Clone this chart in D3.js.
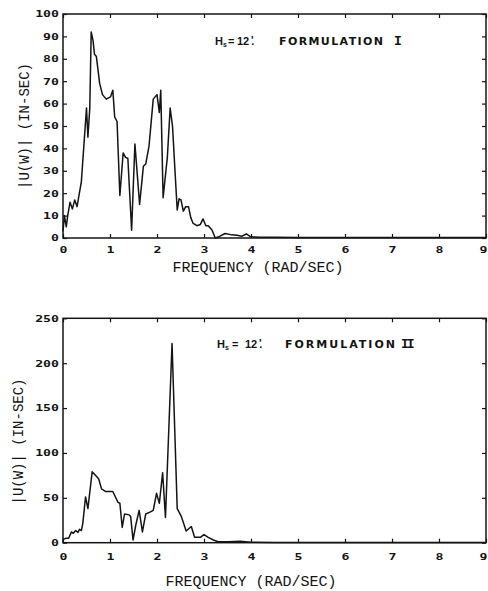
<!DOCTYPE html>
<html>
<head>
<meta charset="utf-8">
<script src="https://cdn.jsdelivr.net/npm/d3@7"></script>
<style>
  body { margin: 0; background: #fff; }
  svg { display: block; }
</style>
</head>
<body>
<script>
// Frequency axis and tick labels
var xTicks = [0, 1, 2, 3, 4, 5, 6, 7, 8, 9];
var yTicksTop = [0, 10, 20, 30, 40, 50, 60, 70, 80, 90, 100];
var yTicksBottom = [0, 50, 100, 150, 200, 250];

// Formulation I
var freqTop = [0, 0.03, 0.07, 0.10, 0.15, 0.20, 0.25, 0.30, 0.34, 0.39, 0.44, 0.50, 0.53, 0.57, 0.60,
    0.64, 0.67, 0.71, 0.78, 0.84, 0.92, 1.01, 1.06, 1.10, 1.15, 1.21, 1.28, 1.33, 1.38, 1.46,
    1.53, 1.63, 1.71, 1.76, 1.83, 1.92, 2.00, 2.05, 2.08, 2.13, 2.22, 2.28, 2.33, 2.38, 2.43,
    2.47, 2.51, 2.56, 2.61, 2.67, 2.72, 2.77, 2.85, 2.92, 2.98, 3.04, 3.09, 3.17, 3.24, 3.33,
    3.45, 3.59, 3.70, 3.81, 3.90, 3.98, 4.06, 4.20, 4.50, 5, 6, 7, 8, 9];
var ampTop = [3, 10, 5, 10, 16, 13, 17, 14, 19, 25, 40, 58, 45, 58, 92,
    88, 82, 81, 69, 64, 62, 63, 66, 54, 52, 19, 38, 36, 35.5, 3.5,
    42, 15, 32, 33, 41, 62, 64, 56, 66, 18, 36, 58, 50, 31, 12.5,
    17.5, 17, 12, 14, 14, 9, 6.5, 5.5, 6, 8.5, 5.5, 5.5, 3.6, 0, 0.7,
    2, 1.4, 1.2, 0.8, 1.8, 0.7, 0.5, 0.3, 0.3, 0.2, 0.2, 0.2, 0.2, 0.2];

// Formulation II
var freqBottom = [0, 0.01, 0.07, 0.12, 0.18, 0.22, 0.27, 0.32, 0.35, 0.39, 0.42, 0.48, 0.53, 0.62,
    0.71, 0.76, 0.82, 0.91, 1.06, 1.17, 1.21, 1.26, 1.31, 1.41, 1.44, 1.49, 1.55, 1.62, 1.69,
    1.76, 1.85, 1.92, 1.99, 2.05, 2.12, 2.18, 2.32, 2.43, 2.47, 2.52, 2.62, 2.73, 2.80, 2.92,
    3.00, 3.09, 3.20, 3.30, 3.52, 3.77, 4.00, 4.50, 5, 6, 7, 8, 9];
var ampBottom = [0.5, 4, 5, 5, 12, 10.5, 13.5, 11.5, 15, 13.5, 21, 51, 38, 79,
    74, 71, 60, 57, 57, 45, 44, 17, 32, 31, 29, 3, 20, 36, 12,
    32, 34, 36, 55, 44, 78, 28, 222, 38, 34, 29, 13, 18, 6, 6,
    9, 6, 3, 1, 1, 1.5, 0.5, 0.3, 0.3, 0.3, 0.3, 0.3, 0.3];

var W = 488, H = 591;
var ink = "#141414";
var xRange = [63, 486];

var panels = [
    { freq: freqTop, amp: ampTop, yMax: 100, yTicks: yTicksTop, top: 14, bottom: 238,
      ytx: 29, ytOff: 0, xtX: 258, xtY: 272, labY: 12, roman: "I",
      ann: { y: 45, h: 215, eq: 228, num: 237, form: 279, formLen: 104, rom: 394 } },
    { freq: freqBottom, amp: ampBottom, yMax: 250, yTicks: yTicksBottom, top: 318.3, bottom: 542.7,
      ytx: 23, ytOff: 11, xtX: 251, xtY: 586, labY: 14, roman: "II",
      ann: { y: 348, h: 217, eq: 232, num: 245, form: 285, formLen: 110, rom: 401 } }
];

var svg = d3.select("body").append("svg")
    .attr("width", W)
    .attr("height", H);

svg.append("rect").attr("width", W).attr("height", H).attr("fill", "#fff");

// squat plotter-style tick digits
function styleTickText(sel, tx, ty, anchor) {
    sel.attr("x", 0).attr("y", 0).attr("dy", "0.36em")
        .attr("fill", ink)
        .attr("text-anchor", anchor)
        .attr("transform", function(d) {
            var dx = (anchor === "middle" && d === 9) ? -3 : tx;
            return "translate(" + dx + "," + ty + ") scale(1.2,0.72)";
        });
}

panels.forEach(function(p) {
    var x = d3.scaleLinear().domain([0, 9]).range(xRange);
    var y = d3.scaleLinear().domain([0, p.yMax]).range([p.bottom, p.top]);

    var g = svg.append("g");

    var axFont = function(a) {
        a.attr("font-family", "'DejaVu Sans Mono', monospace")
            .attr("font-weight", "bold")
            .attr("font-size", 11);
        a.select(".domain").remove();
        a.selectAll(".tick line").attr("stroke", ink).attr("stroke-width", 1.2);
    };

    // bottom axis with labels
    var xb = g.append("g")
        .attr("transform", "translate(0," + p.bottom + ")")
        .call(d3.axisBottom(x).tickValues(xTicks).tickSizeInner(-4).tickSizeOuter(0).tickFormat(d3.format("d")));
    axFont(xb);
    styleTickText(xb.selectAll(".tick text"), 0, p.labY, "middle");

    // top axis, ticks only
    var xt = g.append("g")
        .attr("transform", "translate(0," + p.top + ")")
        .call(d3.axisTop(x).tickValues(xTicks).tickSizeInner(-4).tickSizeOuter(0).tickFormat(""));
    axFont(xt);

    // left axis with labels
    var yl = g.append("g")
        .attr("transform", "translate(" + xRange[0] + ",0)")
        .call(d3.axisLeft(y).tickValues(p.yTicks).tickSizeInner(-4).tickSizeOuter(0).tickFormat(d3.format("d")));
    axFont(yl);
    styleTickText(yl.selectAll(".tick text"), -4, 0, "end");

    // right axis, ticks only
    var yr = g.append("g")
        .attr("transform", "translate(" + xRange[1] + ",0)")
        .call(d3.axisRight(y).tickValues(p.yTicks).tickSizeInner(-4).tickSizeOuter(0).tickFormat(""));
    axFont(yr);

    // frame
    g.append("rect")
        .attr("x", x(0))
        .attr("y", y(p.yMax))
        .attr("width", x(9) - x(0))
        .attr("height", y(0) - y(p.yMax))
        .attr("fill", "none")
        .attr("stroke", ink)
        .attr("stroke-width", 1.5);

    // spectrum
    var line = d3.line()
        .x(function(d, i) { return x(p.freq[i]); })
        .y(function(d) { return y(d); });

    g.append("path")
        .datum(p.amp)
        .attr("d", line)
        .attr("fill", "none")
        .attr("stroke", ink)
        .attr("stroke-width", 1.5)
        .attr("stroke-linejoin", "round");

    // axis titles
    g.append("text")
        .attr("x", p.xtX)
        .attr("y", p.xtY)
        .attr("text-anchor", "middle")
        .attr("font-family", "'Liberation Mono', monospace")
        .attr("font-size", 15)
        .attr("fill", ink)
        .text("FREQUENCY (RAD/SEC)");

    var cy = (p.top + p.bottom) / 2 + p.ytOff;
    g.append("text")
        .attr("transform", "translate(" + p.ytx + "," + cy + ") rotate(-90)")
        .attr("text-anchor", "middle")
        .attr("font-family", "'Liberation Mono', monospace")
        .attr("font-size", 14)
        .attr("fill", ink)
        .text("|U(W)| (IN-SEC)");

    // annotation
    var a = p.ann;
    var t = g.append("text")
        .attr("y", a.y)
        .attr("font-family", "'Liberation Sans', Arial, sans-serif")
        .attr("font-weight", "bold")
        .attr("font-size", 11)
        .attr("fill", ink);
    t.append("tspan").attr("x", a.h).text("H");
    t.append("tspan").attr("font-size", 7).attr("dy", 2).text("s");
    t.append("tspan").attr("x", a.eq).attr("dy", -2).text("=");
    t.append("tspan").attr("x", a.num).text("12");
    t.append("tspan").attr("x", a.num + 14).attr("dy", -1).text("'");
    t.append("tspan").attr("x", a.num + 14.3).attr("dy", 1).text(".");
    t.append("tspan").attr("x", a.form)
        .attr("font-family", "'DejaVu Sans', sans-serif")
        .attr("textLength", a.formLen)
        .attr("lengthAdjust", "spacing")
        .text("FORMULATION");
    t.append("tspan").attr("x", a.rom)
        .attr("font-family", "'Liberation Mono', monospace")
        .attr("font-size", 13)
        .attr("letter-spacing", -2)
        .text(p.roman);
});
</script>
</body>
</html>
